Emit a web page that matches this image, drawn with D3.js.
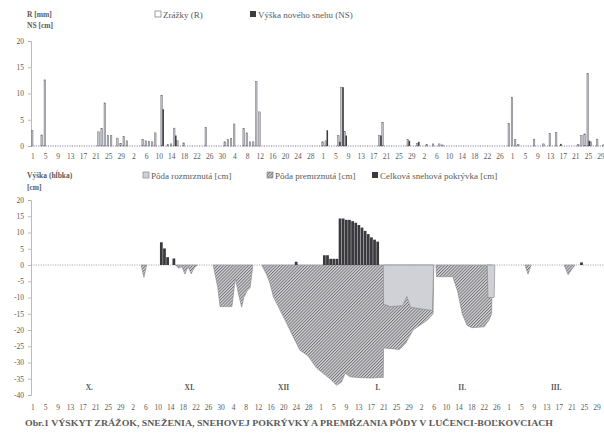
<!DOCTYPE html>
<html><head><meta charset="utf-8">
<script src="https://cdn.jsdelivr.net/npm/d3@7"></script>
<style>
body{margin:0;background:#fff;}
svg{display:block;}
text{font-family:"Liberation Serif","DejaVu Serif",serif;fill:#5a5a5a;}
</style></head><body>
<svg id="c" width="604" height="433"></svg>
<script>
// ---------- DATA ----------
const nDays = 183; // 1 Oct .. 31 Mar (leap year)
const tickLabels = ["1","5","9","13","17","21","25","29","2","6","10","14","18","22","26","30","4","8","12","16","20","24","28","1","5","9","13","17","21","25","29","2","6","10","14","18","22","26","1","5","9","13","17","21","25","29"];
const tickStep = 4;
const monthNames = ["X.","XI.","XII","I.","II.","III."];
const monthLabelDays = [18, 50, 80, 110, 137, 167];

// precipitation R [mm] : [dayIndex, value]
const precipR = [[0,3.0],[3,2.1],[4,12.6],[21,2.7],[22,3.3],[23,8.2],[24,2.0],[25,2.0],[27,1.5],[28,0.5],[29,1.8],[30,1.0],
  [35,1.2],[36,1.0],[37,0.9],[38,0.8],[39,2.5],[41,9.6],[43,0.3],[44,0.4],[45,3.4],[46,1.0],[48,0.6],[55,3.5],
  [61,0.8],[62,1.2],[63,1.4],[64,4.2],[67,3.3],[68,2.5],[69,0.8],[70,0.8],[71,12.3],[72,6.5],
  [92,0.8],[93,1.0],[97,2.0],[98,11.2],[99,2.8],[110,2.0],[111,4.5],[119,1.2],[122,0.5],[125,0.3],[127,0.4],[129,0.4],[130,0.2],
  [151,4.3],[152,9.3],[153,1.2],[154,0.3],[159,1.3],[162,0.4],[164,2.4],[166,2.6],[173,0.3],[174,2.0],[175,2.3],[176,13.8],[177,0.8],[179,1.3],[181,0.2],[182,0.4]];
// new snow NS [cm]
const newSnow = [[41,7.0],[45,2.0],[93,3.0],[97,0.8],[98,11.2],[99,2.0],[110,2.0],[119,1.0],[122,0.8],[167,0.4],[176,1.0]];
// total snow cover [cm]
const snowCover = [[41,7.0],[42,5.1],[43,2.4],[45,2.0],[84,1.0],[93,3.0],[94,3.0],[95,1.9],[96,1.9],[97,1.9],
  [98,14.3],[99,14.3],[100,13.9],[101,13.9],[102,13.5],[103,13.0],[104,12.3],[105,11.5],[106,10.5],[107,9.5],[108,8.5],[109,7.8],[110,7.2],[175,0.8]];
// frozen soil depth [cm] (outline of each frozen body) : [day, depth]
const frostOct = [[34.5,0],[35.4,-3.8],[36.3,0]];
const frostNov = [[45.5,0],[46.5,-1],[47.5,-0.5],[48.5,-2.8],[49.5,-0.5],[50.5,-2.7],[51.5,-0.8],[52.5,0]];
const frostDec = [[57.5,0],[59,-7],[59.7,-12.8],[63.5,-12.8],[64.1,-8],[64.6,-4.1],[65.4,-8],[66.6,-13],[67.3,-10],[68.3,-8],[69.3,-7],[70.2,0]];
const frostWinter = [[73,0],[74.6,-3],[75.6,-5.5],[76.7,-9.7],[78.8,-13.8],[81,-18],[83,-22],[85.2,-26.2],[87.8,-28],[90.6,-31.8],[94.8,-35],[96.9,-37],[98.5,-36],[99.6,-33.3],[101.2,-34.4],[103.3,-34.6],[107.6,-34.8],[110.8,-34.6],[111.8,-34.6],
  [111.9,-25.5],[117,-26],[119,-24],[121.3,-20],[123.5,-18.5],[125.8,-17],[127.7,-15],[127.9,0]];
const frostFeb = [[128.6,0],[128.8,-3.6],[134,-3.6],[135.5,-8],[137,-15],[138.5,-18.5],[140,-19.3],[144,-19],[145.5,-17],[146.4,-15],[146.6,0]];
const frostMar1 = [[157,0],[158,-2.8],[159,0]];
const frostMar2 = [[169.5,0],[170.8,-3],[172.2,-1],[173,0]];
const frozenBodies = [frostOct, frostNov, frostDec, frostWinter, frostFeb, frostMar1, frostMar2];
// thawed (top) soil layer [cm]
const thawJan = [[111.8,0],[111.9,-12],[114,-12.8],[118,-12.5],[119.3,-9.7],[120.5,-13],[127.5,-14],[127.9,0]];
const thawFeb = [[145,0],[145.2,-10],[147.2,-10],[147.4,0]];
const thawedBodies = [thawJan, thawFeb];

// ---------- DRAW ----------
const svg = d3.select("#c");
const defs = svg.append("defs");
const hp = defs.append("pattern").attr("id","hatch").attr("patternUnits","userSpaceOnUse")
  .attr("width",2.2).attr("height",2.2).attr("patternTransform","rotate(45)");
hp.append("rect").attr("width",2.2).attr("height",2.2).attr("fill","#d6d6d9");
hp.append("line").attr("x1",0.5).attr("y1",0).attr("x2",0.5).attr("y2",2.2).attr("stroke","#6c6c70").attr("stroke-width",0.9);

const xTop = d3.scaleBand(d3.range(nDays), [31.4, 609]).padding(0);
const xSub = d3.scaleBand(["R","NS"], [0, xTop.bandwidth()]).padding(0.02);
const yTop = d3.scaleLinear([0, 20], [146, 41]);
const xBot = d3.scaleBand(d3.range(nDays), [31.4, 604.8]).paddingInner(0.12);
const xcB = d => 31.4 + (d + 0.5) * (604.8 - 31.4) / nDays;
const yBot = d3.scaleLinear([-40, 20], [395, 200]);

function yAxis(scale, x, ticks) {
  const g = svg.append("g").attr("transform", `translate(${x},0)`)
    .call(d3.axisLeft(scale).tickValues(ticks).tickSize(3).tickPadding(4).tickFormat(d => String(d)));
  g.selectAll("path,line").attr("stroke", "#aaa").attr("stroke-width", 0.8);
  g.selectAll("text").attr("font-size", 7.5).attr("fill", "#666").style("font-family", "Liberation Serif, serif");
  return g;
}

// ---- top chart ----
yAxis(yTop, 31, [0,5,10,15,20]);
svg.append("line").attr("x1",31).attr("x2",604).attr("y1",yTop(0)).attr("y2",yTop(0))
  .attr("stroke","#a9a9c4").attr("stroke-width",1.3).attr("stroke-dasharray","1.2,1.2");
svg.append("g").selectAll("rect").data(precipR).join("rect")
  .attr("x", d => xTop(d[0]) + xSub("R")).attr("width", xSub.bandwidth())
  .attr("y", d => yTop(d[1])).attr("height", d => yTop(0) - yTop(d[1]))
  .attr("fill","#c2c2ca").attr("stroke","#6a6a72").attr("stroke-width",0.5);
svg.append("g").selectAll("rect").data(newSnow).join("rect")
  .attr("x", d => xTop(d[0]) + xSub("NS")).attr("width", xSub.bandwidth())
  .attr("y", d => yTop(d[1])).attr("height", d => yTop(0) - yTop(d[1]))
  .attr("fill","#3c3c40");
svg.append("g").selectAll("text").data(tickLabels).join("text")
  .attr("x", (t,i) => xTop(i*tickStep) + xTop.bandwidth()/2).attr("y", 159)
  .attr("text-anchor","middle").attr("font-size",7.5).attr("fill","#666").text(t => t);

svg.append("text").attr("x",27).attr("y",17).attr("font-size",7.5).attr("font-weight","bold").attr("fill","#666").text("R [mm]");
svg.append("text").attr("x",27).attr("y",28).attr("font-size",7.5).attr("font-weight","bold").attr("fill","#666").text("NS [cm]");
svg.append("rect").attr("x",155).attr("y",11).attr("width",6).attr("height",6).attr("fill","#fff").attr("stroke","#777").attr("stroke-width",0.7);
svg.append("text").attr("x",163).attr("y",17.5).attr("font-size",9).attr("fill","#666").text("Zrážky (R)");
svg.append("rect").attr("x",250).attr("y",11).attr("width",6).attr("height",6).attr("fill","#3c3c40");
svg.append("text").attr("x",258).attr("y",17.5).attr("font-size",9).attr("fill","#666").text("Výška nového snehu (NS)");

// ---- bottom chart ----
yAxis(yBot, 31, d3.range(-40, 21, 5));
const area = d3.area().x(p => xcB(p[0])).y0(yBot(0)).y1(p => yBot(p[1]));
svg.append("g").selectAll("path").data(frozenBodies).join("path")
  .attr("d", area).attr("fill","url(#hatch)").attr("stroke","#85858a").attr("stroke-width",0.6);
svg.append("g").selectAll("path").data(thawedBodies).join("path")
  .attr("d", area).attr("fill","#d0d0d7").attr("stroke","#85858a").attr("stroke-width",0.6);
svg.append("line").attr("x1",31).attr("x2",604).attr("y1",yBot(0)).attr("y2",yBot(0))
  .attr("stroke","#a9a9c4").attr("stroke-width",1).attr("stroke-dasharray","1.2,1.2");
svg.append("g").selectAll("rect").data(snowCover).join("rect")
  .attr("x", d => xBot(d[0])).attr("width", xBot.bandwidth())
  .attr("y", d => yBot(d[1])).attr("height", d => yBot(0) - yBot(d[1]))
  .attr("fill","#3a3a3e");
svg.append("g").selectAll("text").data(tickLabels).join("text")
  .attr("x", (t,i) => xcB(i*tickStep)).attr("y", 410)
  .attr("text-anchor","middle").attr("font-size",7.5).attr("fill","#666").text(t => t);
svg.append("g").selectAll("text").data(monthNames).join("text")
  .attr("x", (t,i) => xcB(monthLabelDays[i])).attr("y", 390)
  .attr("text-anchor","middle").attr("font-size",7.5).attr("font-weight","bold").attr("fill","#666").text(t => t);

svg.append("text").attr("x",27).attr("y",178).attr("font-size",7.5).attr("font-weight","bold").attr("fill","#666").text("Výška  (hĺbka)");
svg.append("text").attr("x",27).attr("y",190).attr("font-size",7.5).attr("font-weight","bold").attr("fill","#666").text("[cm]");
svg.append("rect").attr("x",143).attr("y",172).attr("width",6).attr("height",6).attr("fill","#d0d0d7").attr("stroke","#777").attr("stroke-width",0.6);
svg.append("text").attr("x",151).attr("y",178.5).attr("font-size",9).attr("fill","#666").text("Pôda rozmrznutá [cm]");
svg.append("rect").attr("x",267).attr("y",172).attr("width",6).attr("height",6).attr("fill","url(#hatch)").attr("stroke","#777").attr("stroke-width",0.6);
svg.append("text").attr("x",275).attr("y",178.5).attr("font-size",9).attr("fill","#666").text("Pôda premrznutá [cm]");
svg.append("rect").attr("x",372).attr("y",172).attr("width",6).attr("height",6).attr("fill","#3a3a3e");
svg.append("text").attr("x",380).attr("y",178.5).attr("font-size",9).attr("fill","#666").text("Celková snehová pokrývka [cm]");

svg.append("text").attr("x",25).attr("y",426).attr("font-size",8.5).attr("font-weight","bold").attr("fill","#444")
  .attr("textLength",528).attr("lengthAdjust","spacingAndGlyphs")
  .text("Obr.1 VÝSKYT ZRÁŽOK, SNEŽENIA, SNEHOVEJ POKRÝVKY A PREMŔZANIA PÔDY V LUČENCI-BOĽKOVCIACH");
</script>
</body></html>
